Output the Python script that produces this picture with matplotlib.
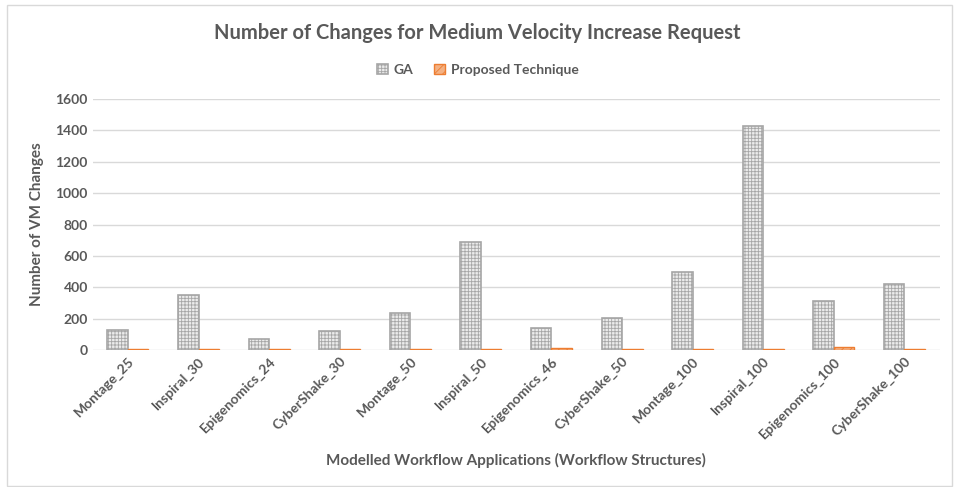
import numpy as np
import matplotlib.pyplot as plt
from matplotlib.patches import Rectangle

# data
workflows = ['Montage_25', 'Inspiral_30', 'Epigenomics_24', 'CyberShake_30',
             'Montage_50', 'Inspiral_50', 'Epigenomics_46', 'CyberShake_50',
             'Montage_100', 'Inspiral_100', 'Epigenomics_100', 'CyberShake_100']
ga = [130, 348, 74, 125, 238, 686, 144, 202, 495, 1428, 316, 424]
proposed = [8, 8, 7, 7, 8, 8, 12, 8, 8, 8, 22, 8]

plt.rcParams['font.family'] = ['Lato', 'DejaVu Sans']
plt.rcParams['hatch.linewidth'] = 0.6
text_col = '#595959'

fig = plt.figure(figsize=(9.55, 4.87), dpi=100)
ax = fig.add_axes([0.097, 0.281, 0.887, 0.516])

x = np.arange(len(workflows))
w = 0.29
b1 = ax.bar(x - w / 2, ga, w, color='#ebebeb', edgecolor='#a6a6a6',
            linewidth=1.2, hatch='+++++', label='GA', zorder=3)
b2 = ax.bar(x + w / 2, proposed, w, color='#f4b183', edgecolor='#ed7d31',
            linewidth=1.0, hatch='////', label='Proposed Technique', zorder=3)

ax.set_xlim(-0.5, len(workflows) - 0.5)
ax.set_ylim(0, 1600)
ax.set_yticks(range(0, 1601, 200))
ax.grid(axis='y', color='#d9d9d9', linewidth=1, zorder=0)
for s in ax.spines.values():
    s.set_visible(False)
ax.tick_params(length=0, colors=text_col, labelsize=10)
ax.set_xticks(x)
ax.set_xticklabels(workflows, rotation=45, ha='right', rotation_mode='anchor',
                   fontweight='bold', color=text_col)
for t in ax.get_yticklabels():
    t.set_fontweight('bold')

ax.set_ylabel('Number of VM Changes', fontsize=11, fontweight='bold',
              color=text_col, labelpad=8)
ax.set_xlabel('Modelled Workflow Applications (Workflow Structures)',
              fontsize=11, fontweight='bold', color=text_col, labelpad=9)

fig.suptitle('Number of Changes for Medium Velocity Increase Request',
             x=0.5, y=0.932, va='center', fontsize=14.5, fontweight='bold',
             color=text_col)
leg = fig.legend(handles=[b1, b2], loc='center', bbox_to_anchor=(0.5, 0.857),
                 ncol=2, frameon=False, fontsize=10, handlelength=0.8,
                 handleheight=0.8, columnspacing=1.5, handletextpad=0.4)
for t in leg.get_texts():
    t.set_color(text_col)
    t.set_fontweight('bold')

# light frame around the chart area
fig.patches.append(Rectangle((0.007, 0.002), 0.99, 0.988, transform=fig.transFigure,
                             fill=False, edgecolor='#d9d9d9', linewidth=1))

fig.savefig('out.png', dpi=100)
